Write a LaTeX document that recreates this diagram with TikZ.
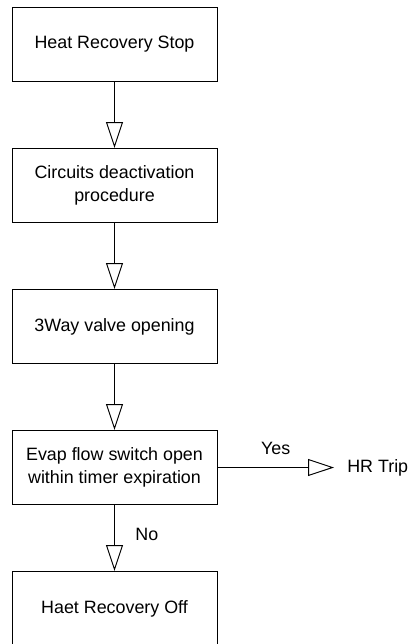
\documentclass[tikz,border=0pt]{standalone}
\usepackage{fontspec}
\setmainfont{Liberation Sans}
\usetikzlibrary{arrows.meta}
\usetikzlibrary{positioning}
\tikzset{
	box/.style={draw, line width=0.75pt, minimum width=153.75pt, minimum height=55.5pt, align=center, inner sep=0pt},
	flow/.style={line width=0.75pt, -{Triangle[open, length=19.5pt, width=12.75pt]}}
}
\begin{document}
\begin{tikzpicture}[x=0.75pt, y=0.75pt, node distance=49.5pt, font=\fontsize{13.4}{17.25}\selectfont]
			\useasboundingbox (0,0) rectangle (409,-644);
			\node[box] at(114.5,-44.5) (stop){Heat Recovery Stop};
			\node[box, below=of stop] (circ){Circuits deactivation\\procedure};
			\node[box, below=of circ] (valve){3Way valve opening};
			\node[box, below=of valve] (evap){Evap flow switch open\\within timer expiration};
			\node[box, below=of evap] (off){Haet Recovery Off};
			\node[right=87.4pt of evap, inner xsep=9.75pt] (trip){HR Trip};
			\draw[flow] (stop) -- (circ);
			\draw[flow] (circ) -- (valve);
			\draw[flow] (valve) -- (evap);
			\draw[flow] (evap) -- node[right=12pt, yshift=3pt]{No} (off);
			\draw[flow] (evap) -- node[above=6pt]{Yes} (trip);
		\end{tikzpicture}
\end{document}
